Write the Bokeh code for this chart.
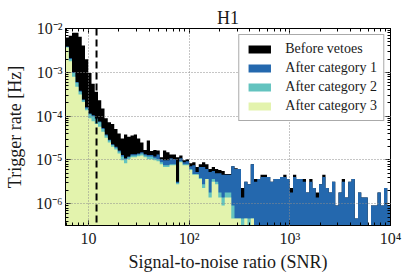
import numpy as np
from bokeh.plotting import figure
from bokeh.models import (ColumnDataSource, Span, LogAxis, FixedTicker, Legend,
                          LegendItem, CustomJSTickFormatter)
from bokeh.embed import file_html
from bokeh.resources import INLINE

# ---------------- data ----------------
snr_range = (5.9, 1.0e4)
rate_range = (3.2e-7, 1.0e-2)
n_bins = 100
snr_threshold = 12.0

x_tick_values = [10, 100, 1000, 10000]
x_tick_labels = ["10", "10²", "10³", "10⁴"]
y_tick_values = [1e-6, 1e-5, 1e-4, 1e-3, 1e-2]
y_tick_labels = ["10⁻⁶", "10⁻⁵", "10⁻⁴", "10⁻³", "10⁻²"]

series_labels = ["Before vetoes", "After category 1", "After category 2", "After category 3"]
series_colors = ["#000000", "#2468ae", "#63c3bf", "#e3f3ad"]

before_vetoes = [
    6.2e-3, 6.8e-3, 8.0e-3, 8.0e-3, 6.5e-3, 4.1e-3, 2.0e-3, 9.6e-4, 5.5e-4, 3.6e-4,
    2.3e-4, 1.5e-4, 9.0e-5, 7.3e-5, 6.6e-5, 5.1e-5, 4.0e-5, 3.1e-5, 3.8e-5, 3.4e-5,
    3.6e-5, 3.8e-5, 3.1e-5, 2.5e-5, 1.7e-5, 2.8e-5, 1.6e-5, 1.7e-5, 1.65e-5, 1.15e-5,
    1.65e-5, 1.5e-5, 1.34e-5, 1.34e-5, 1.15e-5, 1.27e-5, 9.9e-6, 1.04e-5, 8.4e-6, 8.9e-6,
    6.9e-6, 8.0e-6, 8.9e-6, 8.0e-6, 6.2e-6, 6.9e-6, 6.2e-6, 5.9e-6, 5.6e-6, 4.8e-6,
    4.8e-6, 7.2e-6, 6.5e-6, 6.2e-6, 2.3e-6, 3.2e-6, 2.8e-6, 8.0e-6, 3.7e-6, 3.7e-6,
    4.6e-6, 4.6e-6, 4.1e-6, 3.2e-6, 3.7e-6, 3.7e-6, 4.1e-6, 4.6e-6, 3.7e-6, 2.3e-6,
    4.6e-6, 3.7e-6, 3.7e-6, 3.7e-6, 1.8e-6, 3.7e-6, 2.3e-6, 1.8e-6, 2.8e-6, 4.6e-6,
    2.3e-6, 1.8e-6, 3.2e-6, 9.2e-7, 1.8e-6, 3.7e-6, 1.4e-6, 3.2e-6, 3.7e-6, 4.6e-7,
    1.8e-6, 1.4e-6, 1.4e-6, 0.0, 9.2e-7, 9.2e-7, 1.8e-6, 9.2e-7, 2.3e-6, 9.2e-7,
]
after_cat1 = [
    3.9e-3, 2.1e-3, 1.0e-3, 6.0e-4, 3.8e-4, 2.4e-4, 1.6e-4, 1.15e-4, 1.05e-4, 9.0e-5,
    7.6e-5, 5.4e-5, 3.8e-5, 2.9e-5, 2.3e-5, 2.0e-5, 1.65e-5, 1.3e-5, 1.1e-5, 1.2e-5,
    1.35e-5, 1.35e-5, 1.4e-5, 1.5e-5, 1.35e-5, 1.3e-5, 1.3e-5, 1.2e-5, 1.34e-5, 1.04e-5,
    9.9e-6, 9.9e-6, 1.09e-5, 1.04e-5, 3.2e-6, 1.09e-5, 8.9e-6, 9.4e-6, 7.2e-6, 7.6e-6,
    5.3e-6, 6.9e-6, 6.9e-6, 6.2e-6, 5.3e-6, 5.6e-6, 5.0e-6, 5.0e-6, 4.6e-6, 4.6e-6,
    4.6e-6, 7.2e-6, 6.2e-6, 6.2e-6, 1.4e-6, 3.2e-6, 2.8e-6, 8.0e-6, 3.2e-6, 3.7e-6,
    4.1e-6, 4.1e-6, 4.1e-6, 3.2e-6, 3.7e-6, 3.7e-6, 4.1e-6, 4.1e-6, 3.7e-6, 1.8e-6,
    4.1e-6, 3.7e-6, 3.7e-6, 3.2e-6, 1.8e-6, 3.2e-6, 2.3e-6, 1.4e-6, 2.8e-6, 4.1e-6,
    2.3e-6, 1.8e-6, 3.2e-6, 9.2e-7, 1.8e-6, 3.2e-6, 1.4e-6, 3.2e-6, 3.7e-6, 4.6e-7,
    1.8e-6, 1.4e-6, 1.4e-6, 0.0, 9.2e-7, 9.2e-7, 1.8e-6, 9.2e-7, 2.3e-6, 9.2e-7,
]
after_cat2 = [
    3.8e-3, 2.0e-3, 9.6e-4, 5.8e-4, 3.6e-4, 2.3e-4, 1.5e-4, 1.1e-4, 1.0e-4, 8.6e-5,
    7.3e-5, 5.1e-5, 3.6e-5, 2.8e-5, 2.2e-5, 1.9e-5, 1.57e-5, 1.2e-5, 1.04e-5, 1.15e-5,
    1.27e-5, 1.27e-5, 1.34e-5, 1.41e-5, 1.27e-5, 1.2e-5, 1.2e-5, 1.09e-5, 1.04e-5, 8.9e-6,
    7.6e-6, 7.6e-6, 8.0e-6, 8.0e-6, 3.0e-6, 9.4e-6, 8.0e-6, 8.0e-6, 6.2e-6, 4.8e-6,
    4.8e-6, 3.9e-6, 2.8e-6, 3.7e-6, 1.8e-6, 3.7e-6, 3.2e-6, 1.8e-6, 1.4e-6, 1.8e-6,
    1.8e-6, 9.2e-7, 4.6e-7, 4.6e-7, 4.6e-7, 4.6e-7, 4.6e-7, 4.6e-7, 0.0, 0.0,
    0.0, 0.0, 0.0, 0.0, 0.0, 0.0, 0.0, 0.0, 0.0, 0.0,
    0.0, 0.0, 0.0, 0.0, 0.0, 0.0, 0.0, 0.0, 0.0, 0.0,
    0.0, 0.0, 0.0, 0.0, 0.0, 0.0, 0.0, 0.0, 0.0, 0.0,
    0.0, 0.0, 0.0, 0.0, 0.0, 0.0, 0.0, 0.0, 0.0, 0.0,
]
after_cat3 = [
    3.7e-3, 1.8e-3, 7.9e-4, 4.7e-4, 3.1e-4, 2.1e-4, 1.36e-4, 9.0e-5, 7.7e-5, 6.6e-5,
    5.7e-5, 4.4e-5, 3.2e-5, 2.5e-5, 2.0e-5, 1.73e-5, 1.41e-5, 9.9e-6, 8.4e-6, 1.04e-5,
    1.15e-5, 1.15e-5, 1.21e-5, 1.27e-5, 1.15e-5, 1.04e-5, 1.04e-5, 9.9e-6, 9.4e-6, 8.0e-6,
    6.9e-6, 6.9e-6, 7.6e-6, 7.6e-6, 2.8e-6, 8.9e-6, 7.6e-6, 7.6e-6, 5.9e-6, 4.6e-6,
    4.6e-6, 3.7e-6, 2.3e-6, 3.7e-6, 1.4e-6, 3.2e-6, 2.8e-6, 1.4e-6, 9.2e-7, 1.4e-6,
    1.4e-6, 4.6e-7, 4.6e-7, 4.6e-7, 0.0, 4.6e-7, 0.0, 4.6e-7, 0.0, 0.0,
    0.0, 0.0, 0.0, 0.0, 0.0, 0.0, 0.0, 0.0, 0.0, 0.0,
    0.0, 0.0, 0.0, 0.0, 0.0, 0.0, 0.0, 0.0, 0.0, 0.0,
    0.0, 0.0, 0.0, 0.0, 0.0, 0.0, 0.0, 0.0, 0.0, 0.0,
    0.0, 0.0, 0.0, 0.0, 0.0, 0.0, 0.0, 0.0, 0.0, 0.0,
]

# ---------------- style ----------------
FONT = "Liberation Serif"
TXT = "#1a1a1a"

edges = np.logspace(np.log10(snr_range[0]), np.log10(snr_range[1]), n_bins + 1)
floor = 1e-8

p = figure(width=411, height=274, x_axis_type="log", y_axis_type="log",
           x_range=snr_range, y_range=rate_range,
           output_backend="svg", toolbar_location=None,
           min_border_left=65, min_border_right=21, min_border_top=28, min_border_bottom=45)

renderers = []
for vals, color in zip([before_vetoes, after_cat1, after_cat2, after_cat3], series_colors):
    v = np.asarray(vals, dtype=float)
    shown = np.where(v > 0, v, floor)
    src = ColumnDataSource(dict(x=edges, y1=np.full(edges.size, floor),
                                y2=np.append(shown, shown[-1])))
    r = p.varea_step(x="x", y1="y1", y2="y2", step_mode="after", source=src,
                     fill_color=color)
    renderers.append(r)

x_minor = [m * 10.0 ** k for k in range(0, 4) for m in range(2, 10)]
y_minor = [m * 10.0 ** k for k in range(-7, -2) for m in range(2, 10)]

code = """
for (let i = 0; i < vals.length; i++) {
  if (Math.abs(Math.log10(tick) - Math.log10(vals[i])) < 1e-6) return labs[i];
}
return " ";
"""
fx = CustomJSTickFormatter(args=dict(vals=x_tick_values, labs=x_tick_labels), code=code)
fy = CustomJSTickFormatter(args=dict(vals=y_tick_values, labs=y_tick_labels), code=code)


def style_axis(ax):
    ax.axis_line_color = "black"
    ax.axis_line_width = 1
    ax.major_tick_in = 5
    ax.major_tick_out = 0
    ax.minor_tick_in = 3
    ax.minor_tick_out = 0
    ax.major_tick_line_color = "black"
    ax.minor_tick_line_color = "black"


p.xaxis.ticker = FixedTicker(ticks=x_tick_values, minor_ticks=x_minor)
p.yaxis.ticker = FixedTicker(ticks=y_tick_values, minor_ticks=y_minor)
p.xaxis.formatter = fx
p.yaxis.formatter = fy
for ax in (p.xaxis[0], p.yaxis[0]):
    style_axis(ax)
    ax.major_label_text_font = FONT
    ax.major_label_text_font_size = "16px"
    ax.major_label_text_color = TXT
    ax.axis_label_text_font = FONT
    ax.axis_label_text_font_size = "18px"
    ax.axis_label_text_font_style = "normal"
    ax.axis_label_text_color = TXT
p.xaxis.axis_label = "Signal-to-noise ratio (SNR)"
p.yaxis.axis_label = "Trigger rate [Hz]"
p.xaxis.major_label_standoff = 4
p.yaxis.major_label_standoff = 3
p.xaxis.axis_label_standoff = 2
p.yaxis.axis_label_standoff = 8

top_ax = LogAxis(ticker=FixedTicker(ticks=x_tick_values, minor_ticks=x_minor),
                 major_label_text_font_size="1px", major_label_text_color=None,
                 major_label_standoff=0)
right_ax = LogAxis(ticker=FixedTicker(ticks=y_tick_values, minor_ticks=y_minor),
                   major_label_text_font_size="1px", major_label_text_color=None,
                   major_label_standoff=0)
style_axis(top_ax)
style_axis(right_ax)
p.add_layout(top_ax, "above")
p.add_layout(right_ax, "right")

p.grid.grid_line_color = "#8c8c8c"
p.grid.grid_line_dash = "1 2"
p.grid.grid_line_width = 1
p.grid.level = "guide"

p.outline_line_color = "black"
p.outline_line_width = 1

p.title.text = "H1"
p.title.align = "center"
p.title.text_font = FONT
p.title.text_font_size = "18px"
p.title.text_font_style = "normal"
p.title.text_color = TXT
p.title.standoff = 2

p.add_layout(Span(location=snr_threshold, dimension="height", line_color="black",
                  line_width=2, line_dash="7 4"))

legend = Legend(items=[LegendItem(label=lab, renderers=[r])
                       for lab, r in zip(series_labels, renderers)],
                location="top_right")
legend.label_text_font = FONT
legend.label_text_font_size = "14px"
legend.label_text_color = TXT
legend.glyph_width = 28
legend.glyph_height = 10
legend.label_height = 16
legend.label_standoff = 12
legend.padding = 6
legend.spacing = 3
legend.margin = 6
legend.border_line_color = "#555555"
legend.border_line_width = 1.2
legend.background_fill_color = "white"
legend.background_fill_alpha = 1.0
p.add_layout(legend)

p.background_fill_color = "white"
p.border_fill_color = "white"

open("out.html", "w").write(file_html(p, INLINE))
